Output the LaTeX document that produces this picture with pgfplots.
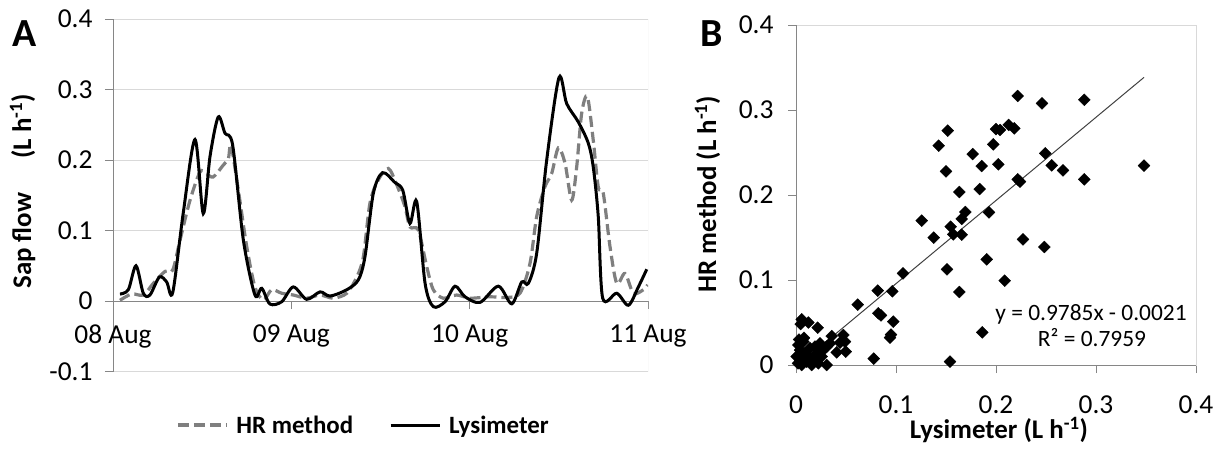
\documentclass[border=0pt]{standalone}
\usepackage{fontspec}
\setmainfont{Carlito}
\usepackage{pgfplots}
\pgfplotsset{compat=1.18}
\definecolor{axisgray}{RGB}{134,134,134}
\definecolor{gridgray}{RGB}{217,217,217}
\definecolor{hrgray}{RGB}{127,127,127}
\newcommand{\fs}[1]{\fontsize{#1}{#1}\selectfont}
\begin{document}
\begin{tikzpicture}
\path[use as bounding box] (0,0) rectangle (1223bp,-452bp);
% ---------------- Panel A ----------------
\begin{axis}[
  at={(113bp,-371.5bp)}, anchor=south west,
  scale only axis, width=535bp, height=352.5bp,
  xmin=0, xmax=3, ymin=-0.1, ymax=0.4,
  axis x line=middle, axis y line=left,
  hide obscured x ticks=false, hide obscured y ticks=false,
  axis line style={draw=axisgray, line width=1bp, -},
  ytick={-0.1,0,0.1,0.2,0.3,0.4}, yticklabels={-0.1,0,0.1,0.2,0.3,0.4},
  xtick={0,1,2,3}, xticklabels={08 Aug,09 Aug,10 Aug,11 Aug},
  tick align=outside, major tick length=8bp,
  tick style={axisgray, line width=1bp},
  ymajorgrids, grid style={gridgray, line width=1bp},
  ticklabel style={font=\fs{27.5}, text=black},
  xticklabel style={yshift=-12bp},
  yticklabel style={xshift=-9bp},
  legend style={at={(axis description cs:0.1178,-0.1518)}, anchor=west,
    draw=none, fill=none, inner sep=0pt, font=\fs{25}\bfseries,
    /tikz/every even column/.append style={column sep=36bp},
    /tikz/every odd column/.append style={column sep=8bp},
    nodes={inner sep=0pt, anchor=west}},
  legend columns=2,
  legend image code/.code={\draw[#1] (0bp,0bp) -- (49bp,0bp);},
]
\draw[gridgray, line width=1bp] (axis cs:3,-0.1) -- (axis cs:3,0.4);
\addplot[hrgray, line width=3.2bp, dash pattern=on 11bp off 5bp, smooth, tension=0.5] coordinates {
(0.039,0.001) (0.105,0.010) (0.170,0.0085) (0.226,0.025) (0.292,0.042) (0.335,0.044)
(0.376,0.0865) (0.432,0.143) (0.488,0.183) (0.522,0.181) (0.562,0.176) (0.619,0.193)
(0.647,0.202) (0.662,0.221) (0.703,0.157) (0.750,0.077) (0.796,0.020) (0.843,0.0014)
(0.890,0.016) (0.946,0.011) (1.011,0.0085) (1.086,0.004) (1.161,0.0085) (1.235,0.004)
(1.311,0.011) (1.367,0.034) (1.404,0.063) (1.441,0.139) (1.488,0.172) (1.544,0.188)
(1.591,0.165) (1.637,0.134) (1.665,0.105) (1.712,0.1007) (1.759,0.049) (1.796,0.016)
(1.852,0.004) (1.927,0.0085) (2.002,0.004) (2.114,0.006) (2.208,0.005) (2.282,0.011)
(2.338,0.053) (2.376,0.120) (2.422,0.162) (2.460,0.181) (2.497,0.217) (2.535,0.195)
(2.572,0.143) (2.600,0.190) (2.628,0.266) (2.660,0.290) (2.693,0.228) (2.721,0.162)
(2.749,0.153) (2.787,0.077) (2.825,0.025) (2.871,0.039) (2.918,0.011) (2.974,0.016)
(2.998,0.023)
};
\addlegendentry{HR method}
\addplot[black, line width=3bp, smooth, tension=0.5] coordinates {
(0.039,0.0099) (0.086,0.016) (0.129,0.050) (0.170,0.011) (0.207,0.0085) (0.260,0.034)
(0.301,0.027) (0.335,0.012) (0.394,0.125) (0.460,0.229) (0.506,0.124) (0.544,0.205)
(0.590,0.261) (0.628,0.238) (0.671,0.221) (0.731,0.0865) (0.796,0.0085) (0.834,0.018)
(0.880,-0.0043) (0.946,-0.001) (1.011,0.020) (1.086,0.0024) (1.161,0.013) (1.217,0.007)
(1.311,0.016) (1.376,0.030) (1.413,0.063) (1.460,0.153) (1.512,0.182) (1.581,0.168)
(1.625,0.157) (1.665,0.110) (1.703,0.141) (1.750,0.025) (1.796,-0.008) (1.862,-0.001)
(1.918,0.021) (1.974,0.006) (2.058,-0.002) (2.161,0.021) (2.236,-0.004) (2.292,0.027)
(2.329,0.025) (2.376,0.068) (2.432,0.200) (2.501,0.317) (2.544,0.280) (2.609,0.254)
(2.665,0.224) (2.693,0.190) (2.721,0.120) (2.746,0.004) (2.825,0.011) (2.890,-0.006)
(2.946,0.020) (2.993,0.045)
};
\addlegendentry{Lysimeter}
\end{axis}
% ---------------- Panel B ----------------
\begin{axis}[
  at={(796bp,-365bp)}, anchor=south west,
  scale only axis, width=400bp, height=340bp,
  xmin=0, xmax=0.4, ymin=0, ymax=0.4,
  xtick={0,0.1,0.2,0.3,0.4}, xticklabels={0,0.1,0.2,0.3,0.4},
  ytick={0,0.1,0.2,0.3,0.4}, yticklabels={0,0.1,0.2,0.3,0.4},
  xtick pos=bottom, ytick pos=left,
  tick align=outside, major tick length=8bp,
  tick style={axisgray, line width=1bp},
  axis line style={draw=gridgray, line width=1bp},
  ticklabel style={font=\fs{27.5}, text=black},
  xticklabel style={yshift=-19bp},
  yticklabel style={xshift=-11bp},
  clip=false,
]
\draw[axisgray, line width=1bp] (rel axis cs:0,1) -- (rel axis cs:0,0) -- (rel axis cs:1,0);
\addplot[only marks, mark=square*, mark size=4.2bp, mark options={rotate=45, fill=black, draw=black}] table {
x y
0.2217 0.3165
0.246 0.3078
0.2883 0.312
0.1517 0.2757
0.1427 0.258
0.200 0.2776
0.204 0.2765
0.2127 0.2824
0.2183 0.2784
0.1973 0.2596
0.1767 0.2482
0.1857 0.2341
0.2023 0.2361
0.150 0.2278
0.2493 0.249
0.2557 0.2349
0.267 0.229
0.348 0.2345
0.2217 0.2184
0.224 0.2157
0.2883 0.2184
0.1633 0.2035
0.1837 0.207
0.1693 0.18
0.1657 0.1718
0.193 0.1796
0.1257 0.1698
0.1547 0.1627
0.1573 0.1537
0.1657 0.1533
0.1377 0.1498
0.227 0.1478
0.2483 0.1388
0.1907 0.1243
0.151 0.1126
0.2087 0.0992
0.1633 0.0859
0.107 0.1078
0.0817 0.0875
0.0963 0.0867
0.0617 0.071
0.0823 0.0608
0.085 0.0584
0.0973 0.051
0.095 0.0357
0.094 0.0322
0.1863 0.0384
0.0777 0.0075
0.154 0.004
0.0057 0.0537
0.0123 0.05
0.0047 0.0482
0.0217 0.0439
0.0357 0.0341
0.0473 0.0353
0.049 0.0275
0.0407 0.0149
0.0497 0.0157
0.044 0.0263
0.0307 0.0
0.0023 0.0235
0.0073 0.0275
0.004 0.0176
0.009 0.0137
0.014 0.02
0.019 0.0216
0.024 0.0255
0.0273 0.0176
0.004 0.0059
0.0107 0.004
0.0173 0.008
0.0223 0.002
0.0157 0.0
0.0057 0.0
0.0007 0.01
0.0123 0.01
0.0207 0.0137
0.0307 0.0216
0.034 0.0255
0.0257 0.01
0.003 0.03
0.008 0.032
0.002 0.002
};
\addplot[black!75, line width=1bp] coordinates {(0.003,0.0008) (0.348,0.3384)};
\end{axis}
% ---------------- Labels ----------------
\node[anchor=base, font=\fs{40}\bfseries] at (25bp,-46.7bp) {A};
\node[anchor=base, font=\fs{40}\bfseries] at (712bp,-46.7bp) {B};
\node[rotate=90, anchor=base, font=\fs{27}\bfseries] at (31bp,-191.5bp) {Sap flow\hspace{34bp}(L h\textsuperscript{-1})};
\node[rotate=90, anchor=base, font=\fs{27}\bfseries] at (716bp,-194bp) {HR method (L h\textsuperscript{-1})};
\node[anchor=base, font=\fs{27}\bfseries] at (999bp,-438bp) {Lysimeter (L h\textsuperscript{-1})};
\node[anchor=base, font=\fs{23.5}] at (1091bp,-320bp) {y = 0.9785x - 0.0021};
\node[anchor=base, font=\fs{23.5}] at (1092bp,-346.7bp) {R² = 0.7959};
\end{tikzpicture}
\end{document}
